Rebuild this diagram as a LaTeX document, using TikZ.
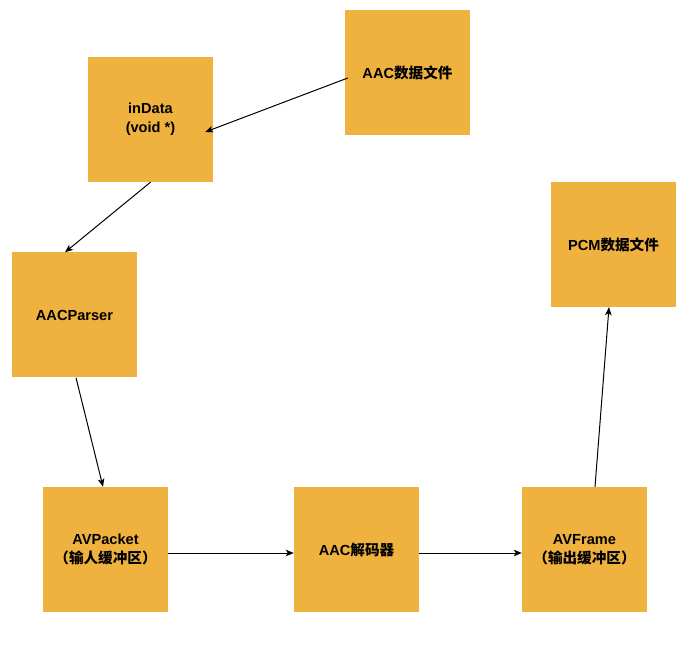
\documentclass[tikz,border=0pt]{standalone}
\usepackage{fontspec}
\setmainfont{Liberation Sans}
\newfontfamily\cjk{Noto Sans CJK SC}
\usetikzlibrary{arrows.meta}
\definecolor{boxfill}{RGB}{240,178,62}
\begin{document}
\begin{tikzpicture}[x=1pt,y=1pt,
  box/.style={rectangle, fill=boxfill, draw=none, minimum width=125pt, minimum height=125pt,
    inner sep=0pt, align=center, text=black, font=\bfseries\fontsize{14.6}{19}\selectfont},
  conn/.style={line width=1pt, draw=black, -{Stealth[length=8pt,width=6.5pt,inset=2pt]}}]
\useasboundingbox (0,0) rectangle (693,659);
\node[box] (aac) at (407.5,586.5) {AAC{\cjk 数据文件}};
\node[box] (indata) at (150.5,539.5) {inData\\(void *)};
\node[box] (parser) at (74.5,344) {AACParser};
\node[box] (packet) at (105.5,109.5) {AVPacket\\{\cjk （输人缓冲区）}};
\node[box] (dec) at (356.5,109.5) {AAC{\cjk 解码器}};
\node[box] (frame) at (584.5,109.5) {AVFrame\\{\cjk （输出缓冲区）}};
\node[box] (pcm) at (613.5,414.5) {PCM{\cjk 数据文件}};
\draw[conn] ([shift={(3,-5.5)}]aac.west) -- ([shift={(-8,-12.5)}]indata.east);
\draw[conn] (indata.south) -- ([xshift=-9.5]parser.north);
\draw[conn] ([xshift=1.5]parser.south) -- ([xshift=-2.5]packet.north);
\draw[conn] ([yshift=-3.5]packet.east) -- ([yshift=-3.5]dec.west);
\draw[conn] ([yshift=-3.5]dec.east) -- ([yshift=-3.5]frame.west);
\draw[conn] ([xshift=10.5]frame.north) -- ([xshift=-4.5]pcm.south);
\end{tikzpicture}
\end{document}
